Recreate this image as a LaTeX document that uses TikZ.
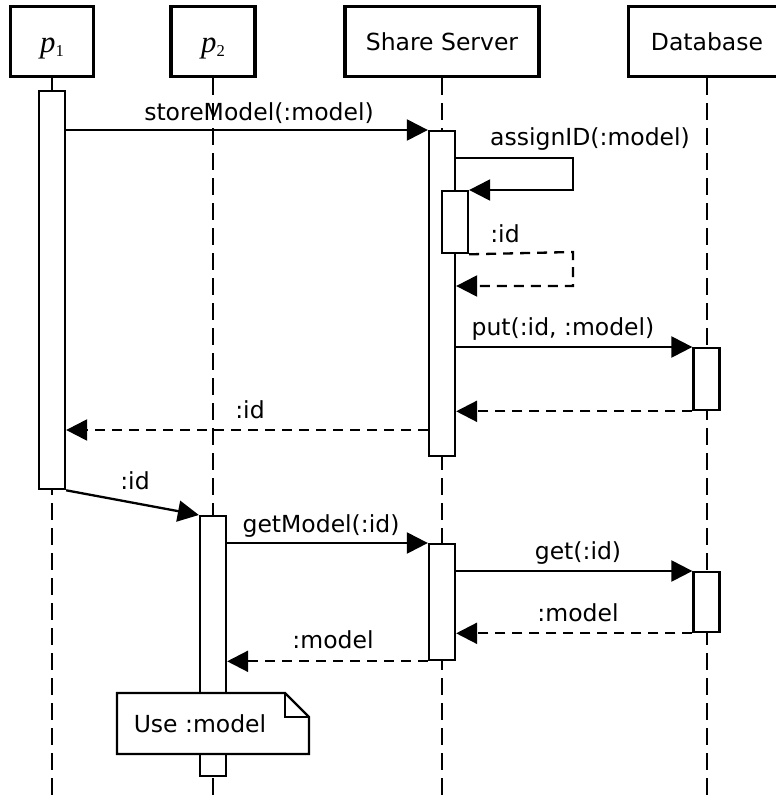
\documentclass[tikz,border=0pt]{standalone}
\usepackage{fontspec}
\setmainfont{DejaVu Sans}
\newfontfamily\procfont{Liberation Serif}
\usetikzlibrary{arrows.meta}

% process name: italic letter with an upright index, e.g. \procname{1}
\newcommand{\procname}[1]{\resizebox{!}{14.5pt}{\procfont\itshape p}%
  \raisebox{-3.5pt}{\resizebox{!}{11pt}{\procfont #1}}}

\tikzset{
  actor/.style={draw, line width=3.6pt, fill=white, minimum height=70pt, inner sep=0pt,
                font=\fontsize{23.5}{27}\selectfont},
  lifeline/.style={line width=2.3pt, dash pattern=on 17pt off 8pt},
  bar/.style={draw, line width=2.3pt, fill=white, minimum width=26pt, inner sep=0pt, anchor=north},
  msg/.style={line width=2.3pt, -{Triangle[length=21pt,width=21pt]}},
  reply/.style={msg, dash pattern=on 10pt off 7pt},
  lbl/.style={anchor=base, inner sep=0pt, font=\fontsize{23.5}{27}\selectfont},
}

\begin{document}
\begin{tikzpicture}[x=1pt,y=-1pt]
\useasboundingbox (0,0) rectangle (776,798);
\begin{scope}
\clip (0,0) rectangle (776,798);

% participants
\node[actor, minimum width=83pt] (p1) at (52,41.5) {};
\node[inner sep=0pt, anchor=base west] (p1name) at (40,52.5) {\procname{1}};
\node[actor, minimum width=84pt] (p2) at (213,41.5) {};
\node[inner sep=0pt, anchor=base west] (p2name) at (201,52.5) {\procname{2}};
\node[actor, minimum width=194pt] (ss) at (442,41.5) {Share Server};
\node[actor, minimum width=157pt] (db) at (707,41.5) {Database};

% lifelines
\coordinate (p1end) at (52,800);
\coordinate (p2end) at (213,800);
\coordinate (ssend) at (442,800);
\coordinate (dbend) at (707,800);
\draw[lifeline] (p1.south) -- (p1end);
\draw[lifeline] (p2.south) -- (p2end);
\draw[lifeline] (ss.south) -- (ssend);
\draw[lifeline] (db.south) -- (dbend);

% activation bars
\node[bar, minimum height=398pt] (p1bar) at (52,90) {};
\node[bar, minimum height=325pt] (ssA) at (442,130) {};
\node[bar, minimum height=62pt] (ssB) at (455,190) {};
\node[bar, minimum height=62pt] (dbA) at (706.5,347) {};
\node[bar, minimum height=260pt] (p2bar) at (213,515) {};
\node[bar, minimum height=116pt] (ssC) at (442,543) {};
\node[bar, minimum height=60pt] (dbB) at (706.5,571) {};

% storeModel
\draw[msg] (p1bar.east |- ssA.north) -- (ssA.north west);
\node[lbl] (l1) at (259,120) {storeModel(:model)};

% assignID self call and its reply
\coordinate (s1) at (573,158);
\coordinate (s2) at (573,190);
\draw[msg] (ssA.east |- s1) -- (s1) -- (s2) -- (ssB.north east);
\node[lbl] (l2) at (590,145) {assignID(:model)};
\coordinate (r1) at (573,252);
\coordinate (r2) at (573,286);
\draw[reply] (ssB.south east) -- (r1) -- (r2) -- (ssA.east |- r2);
\node[lbl] (l3) at (505,242) {:id};

% put
\draw[msg] (ssA.east |- dbA.north) -- (dbA.north west);
\node[lbl] (l4) at (563,335) {put(:id, :model)};
\draw[reply] (dbA.south west) -- (ssA.east |- dbA.south);

% :id back to p1
\coordinate (r3) at (0,430);
\draw[reply] (ssA.west |- r3) -- (p1bar.east |- r3);
\node[lbl] (l5) at (250,418) {:id};

% p1 hands the id to p2
\draw[msg] (p1bar.south east) -- (p2bar.north west);
\node[lbl] (l6) at (135,489) {:id};

% getModel
\draw[msg] (p2bar.east |- ssC.north) -- (ssC.north west);
\node[lbl] (l7) at (321,532) {getModel(:id)};

% get
\draw[msg] (ssC.east |- dbB.north) -- (dbB.north west);
\node[lbl] (l8) at (578,559) {get(:id)};
\draw[reply] (dbB.south west) -- (ssC.east |- dbB.south);
\node[lbl] (l9) at (578,621) {:model};

% :model back to p2
\draw[reply] (ssC.south west) -- (p2bar.east |- ssC.south);
\node[lbl] (l10) at (333,648) {:model};

% note
\draw[line width=2.3pt, fill=white, line join=miter]
  (117,693) -- (285,693) -- (309,717) -- (309,754) -- (117,754) -- cycle;
\draw[line width=2.3pt] (285,693) -- (285,717) -- (309,717);
\node[lbl, anchor=center] (note) at (200,724) {Use :model};
\end{scope}
\end{tikzpicture}
\end{document}
